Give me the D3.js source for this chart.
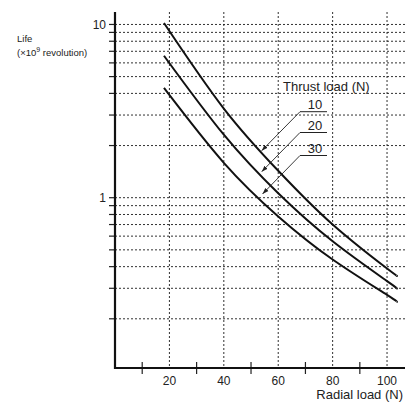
<!DOCTYPE html>
<html>
<head>
<meta charset="utf-8">
<script src="https://cdn.jsdelivr.net/npm/d3@7"></script>
<style>
  html, body { margin: 0; padding: 0; background: #fff; }
  svg { display: block; font-family: "Liberation Sans", Arial, Helvetica, sans-serif; }
</style>
</head>
<body>
<svg id="chart" width="417" height="402"></svg>
<script>
// ---- data ----
const radialLoad = [18, 40, 60, 80, 100, 103.5];
const thrust10 = [10.2, 3.27, 1.43, 0.70, 0.39, 0.355];
const thrust20 = [6.6, 2.31, 1.06, 0.56, 0.33, 0.30];
const thrust30 = [4.3, 1.59, 0.78, 0.44, 0.275, 0.25];
const seriesNames = ["10", "20", "30"];
const xTickLabels = [20, 40, 60, 80, 100];
const xMinorTicks = [10, 30, 50, 70, 90];
const yGridValues = [0.2, 0.3, 0.4, 0.5, 0.6, 0.7, 0.8, 0.9, 1, 2, 3, 4, 5, 6, 7, 8, 9, 10];
const yTickLabels = [1, 10];

const svg = d3.select("#chart");
const x = d3.scaleLinear().domain([0, 106.6]).range([115, 405]);
const y = d3.scaleLog().domain([0.104, 11.8]).range([368, 12]);

const gridColor = "#1a1a1a";

// horizontal gridlines + ticks
const g = svg.append("g");
g.selectAll("line.hg").data(yGridValues).enter().append("line")
  .attr("x1", x(0)).attr("x2", 405)
  .attr("y1", d => y(d)).attr("y2", d => y(d))
  .attr("stroke", gridColor).attr("stroke-width", 0.9)
  .attr("stroke-dasharray", "2,2");
g.selectAll("line.ht").data(yGridValues).enter().append("line")
  .attr("x1", x(0) - 6).attr("x2", x(0))
  .attr("y1", d => y(d)).attr("y2", d => y(d))
  .attr("stroke", "#222").attr("stroke-width", 1.2);

// vertical gridlines
g.selectAll("line.vg").data(xTickLabels).enter().append("line")
  .attr("x1", d => x(d)).attr("x2", d => x(d))
  .attr("y1", 12).attr("y2", 368)
  .attr("stroke", gridColor).attr("stroke-width", 0.9)
  .attr("stroke-dasharray", "2,2");

// minor x ticks
g.selectAll("line.xt").data(xMinorTicks).enter().append("line")
  .attr("x1", d => x(d)).attr("x2", d => x(d))
  .attr("y1", 362).attr("y2", 374)
  .attr("stroke", "#222").attr("stroke-width", 1.2);

// axes lines
svg.append("line").attr("x1", x(0)).attr("x2", x(0)).attr("y1", 12).attr("y2", 369)
  .attr("stroke", "#111").attr("stroke-width", 2.2);
svg.append("line").attr("x1", x(0) - 1).attr("x2", 405).attr("y1", 368).attr("y2", 368)
  .attr("stroke", "#111").attr("stroke-width", 2.2);

// tick labels
svg.selectAll("text.xl").data(xTickLabels).enter().append("text")
  .attr("x", d => x(d)).attr("y", 385)
  .attr("text-anchor", "middle").attr("font-size", 12).attr("fill", "#222")
  .text(d => d);
svg.selectAll("text.yl").data(yTickLabels).enter().append("text")
  .attr("x", 106).attr("y", d => y(d) + 4.5)
  .attr("text-anchor", "end").attr("font-size", 12).attr("fill", "#222")
  .text(d => d);

// axis titles
svg.append("text").attr("x", 403).attr("y", 399).attr("text-anchor", "end")
  .attr("font-size", 13).attr("fill", "#222").text("Radial load (N)");
svg.append("text").attr("x", 17).attr("y", 42).attr("font-size", 9.5).attr("fill", "#222").text("Life");
const t2 = svg.append("text").attr("x", 17).attr("y", 56).attr("font-size", 9.5).attr("fill", "#222");
t2.append("tspan").text("(×10");
t2.append("tspan").attr("dy", -4).attr("font-size", 7).text("9");
t2.append("tspan").attr("dy", 4).text(" revolution)");

// curves
const line = d3.line().x(d => x(d[0])).y(d => y(d[1])).curve(d3.curveNatural);
[thrust10, thrust20, thrust30].forEach(vals => {
  svg.append("path").datum(radialLoad.map((r, i) => [r, vals[i]]))
    .attr("d", line).attr("fill", "none").attr("stroke", "#111").attr("stroke-width", 2);
});

// annotation
svg.append("defs").append("marker").attr("id", "arr")
  .attr("viewBox", "0 0 10 10").attr("refX", 10).attr("refY", 5)
  .attr("markerWidth", 7).attr("markerHeight", 7).attr("orient", "auto")
  .append("path").attr("d", "M0,1.5 L10,5 L0,8.5 Z").attr("fill", "#222");
svg.append("text").attr("x", 283).attr("y", 90.5).attr("font-size", 13).attr("fill", "#222").text("Thrust load (N)");
const labY = [111.7, 132.5, 155.5];
const tips = [[261.7, 150.7], [261.7, 171.7], [262.5, 194]];
seriesNames.forEach((s, i) => {
  svg.append("text").attr("x", 315).attr("y", labY[i] - 3).attr("text-anchor", "middle")
    .attr("font-size", 13).attr("fill", "#222").text(s);
  svg.append("line").attr("x1", 300).attr("x2", 327).attr("y1", labY[i]).attr("y2", labY[i])
    .attr("stroke", "#222").attr("stroke-width", 1);
  svg.append("line").attr("x1", 300).attr("y1", labY[i]).attr("x2", tips[i][0]).attr("y2", tips[i][1])
    .attr("stroke", "#222").attr("stroke-width", 0.9).attr("marker-end", "url(#arr)");
});
</script>
</body>
</html>
